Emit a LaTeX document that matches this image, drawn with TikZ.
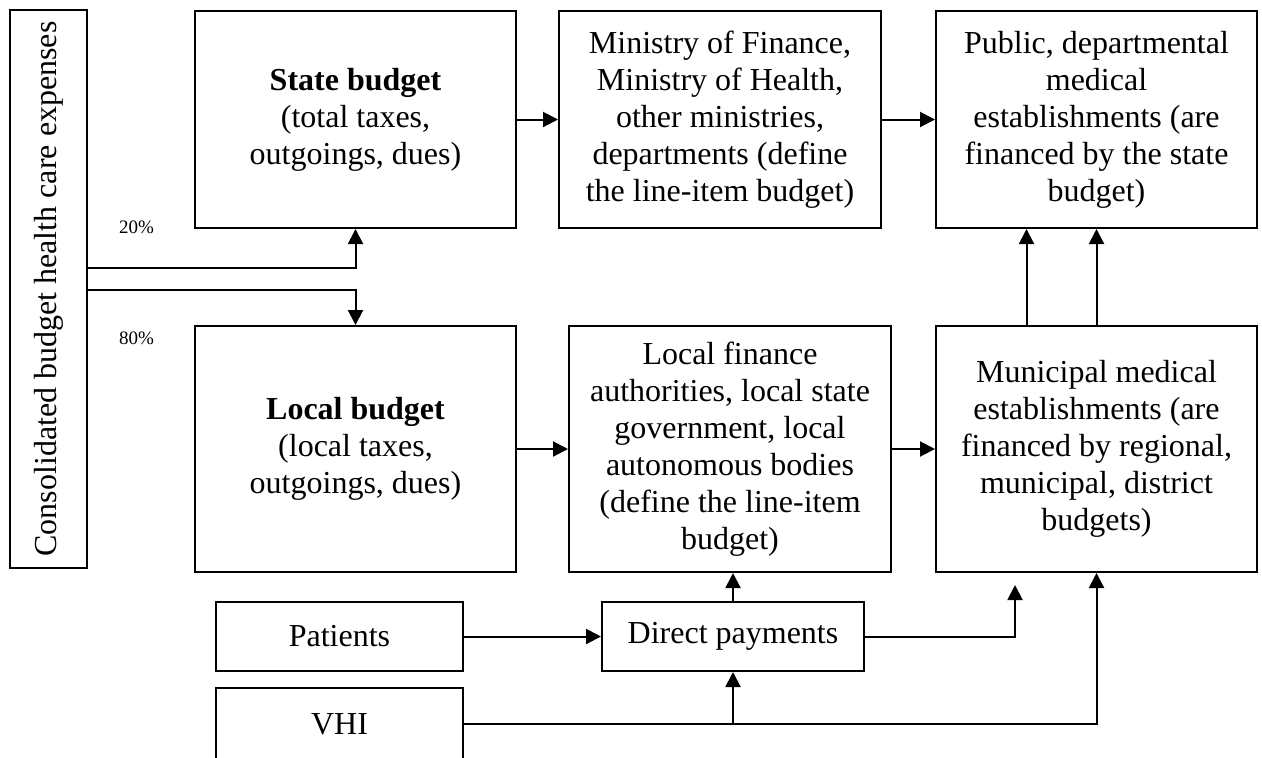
\documentclass[tikz,border=0pt]{standalone}
\usepackage{fontspec}
\setmainfont{Liberation Serif}
\usetikzlibrary{arrows.meta}
\begin{document}
\begin{tikzpicture}[x=0.5pt,y=-0.5pt,
  box/.style={draw, line width=1pt, inner sep=2pt, align=center,
    font=\fontsize{16pt}{18.5pt}\selectfont},
  arr/.style={line width=1pt, -{Triangle[length=7.5pt,width=7.5pt]}},
  pct/.style={font=\fontsize{9.5pt}{11pt}\selectfont, inner sep=0pt}]
\useasboundingbox (0,0) rectangle (1262,757);

% left column
\node[box, minimum width=38.5pt, minimum height=279pt] (lb) at (48.5,289)
  {\rotatebox{90}{Consolidated budget health care expenses}};

% top row
\node[box, minimum width=160.5pt, minimum height=108.5pt] (state) at (355.5,119.5)
  {\textbf{State budget}\\(total taxes,\\outgoings, dues)};
\node[box, minimum width=161pt, minimum height=108.5pt] (ministry) at (720,119.5)
  {Ministry of Finance,\\Ministry of Health,\\other ministries,\\departments (define\\the line-item budget)};
\node[box, minimum width=160.5pt, minimum height=108.5pt] (public) at (1096.5,119.5)
  {Public, departmental\\medical\\establishments (are\\financed by the state\\budget)};

% middle row
\node[box, minimum width=160.5pt, minimum height=123pt] (local) at (355.5,449)
  {\textbf{Local budget}\\(local taxes,\\outgoings, dues)};
\node[box, minimum width=161pt, minimum height=123pt] (localfin) at (730,449)
  {Local finance\\authorities, local state\\government, local\\autonomous bodies\\(define the line-item\\budget)};
\node[box, minimum width=160.5pt, minimum height=123pt] (municipal) at (1096.5,449)
  {Municipal medical\\establishments (are\\financed by regional,\\municipal, district\\budgets)};

% bottom row
\node[box, minimum width=123.5pt, minimum height=34.5pt] (patients) at (339.5,636.5) {Patients};
\node[box, minimum width=131pt, minimum height=34.5pt] (direct) at (733,636.5) {Direct payments};
\node[box, minimum width=123.5pt, minimum height=36pt] (vhi) at (339.5,724) {VHI};

% shares
\node[pct] (p20) at (136.5,227) {20\%};
\node[pct] (p80) at (136.5,338) {80\%};

% helper coordinates
\coordinate (y20) at (0,268);
\coordinate (y80) at (0,290);
\coordinate (dm) at (1015,585);

% connectors
\draw[arr] (lb.east |- y20) -| (state.south);
\draw[arr] (lb.east |- y80) -| (local.north);
\draw[arr] (state.east) -- (ministry.west);
\draw[arr] (ministry.east) -- (public.west);
\draw[arr] (local.east) -- (localfin.west);
\draw[arr] (localfin.east) -- (municipal.west);
\draw[arr] ([xshift=-35pt]municipal.north) -- ([xshift=-35pt]public.south);
\draw[arr] (municipal.north) -- (public.south);
\draw[arr] (patients.east) -- (direct.west);
\draw[arr] (direct.north) -- (direct.north |- localfin.south);
\draw[arr] (direct.east) -| (dm);
\draw[arr] (vhi.east) -| (municipal.south);
\draw[arr] (direct.south |- vhi.east) -- (direct.south);
\end{tikzpicture}
\end{document}
